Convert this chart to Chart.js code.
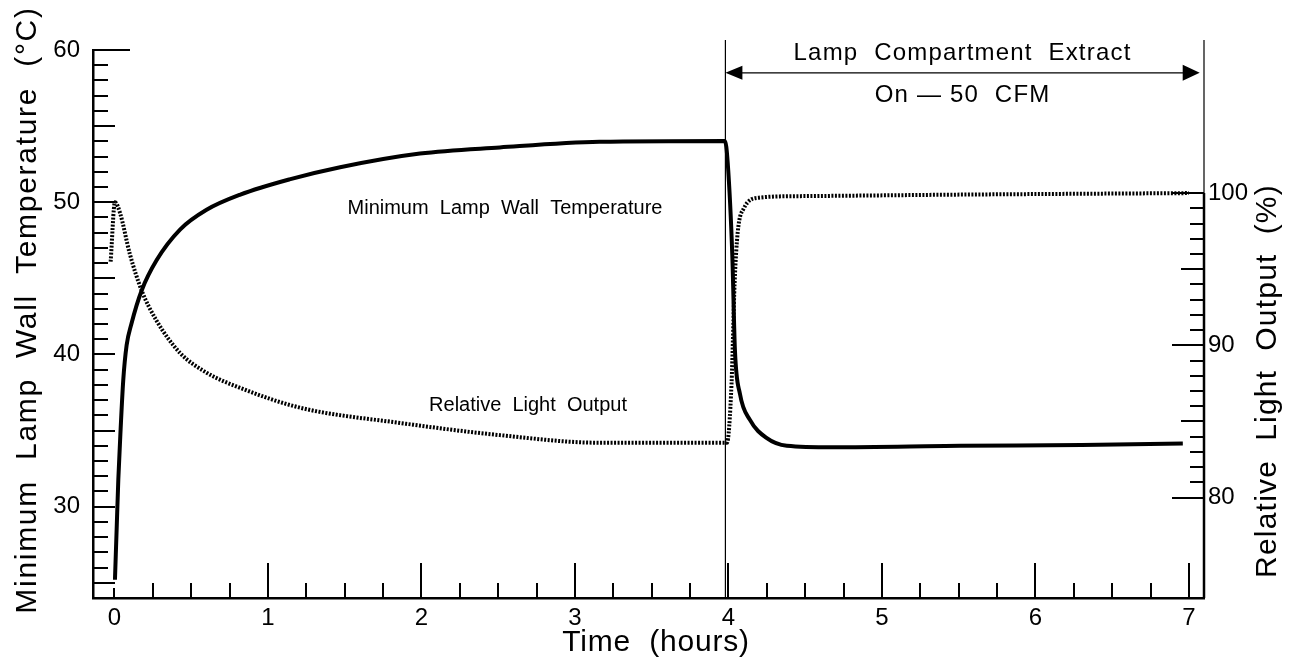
<!DOCTYPE html>
<html>
<head>
<meta charset="utf-8">
<title>Lamp wall temperature and light output</title>
<script src="https://cdn.jsdelivr.net/npm/chart.js@4.4.1/dist/chart.umd.min.js"></script>
<style>
  html, body { margin: 0; padding: 0; background: #fff; }
  #lampChart { display: block; }
</style>
</head>
<body>
<canvas id="lampChart" width="1291" height="658"></canvas>
<script>
// Minimum lamp wall temperature (left axis, °C)
const tempTime   = [0.003, 0.014, 0.025, 0.040, 0.057, 0.079, 0.110, 0.177, 0.275, 0.427, 0.600, 0.820, 1.14, 1.47, 1.99, 2.51, 3.16, 3.977, 3.995, 4.025, 4.042, 4.075, 4.14, 4.25, 4.38, 4.68, 5.51, 6.30, 6.96];
const tempValues = [25.2, 28.5, 31.8, 35.1, 38.3, 40.6, 42.0, 44.2, 46.2, 48.2, 49.5, 50.5, 51.5, 52.3, 53.2, 53.6, 53.97, 54.03, 52.6, 46.5, 40.3, 37.4, 35.7, 34.5, 34.0, 33.9, 34.0, 34.05, 34.15];

// Relative light output (right axis, %)
const lightTime   = [-0.025, 0.003, 0.036, 0.10, 0.177, 0.275, 0.427, 0.60, 0.82, 1.21, 1.86, 2.51, 3.16, 3.99, 4.02, 4.04, 4.06, 4.10, 4.20, 4.47, 5.51, 7.00];
const lightValues = [95.5, 99.4, 98.7, 96.0, 93.6, 91.6, 89.5, 88.2, 87.2, 85.9, 84.9, 84.1, 83.6, 83.6, 87.5, 94.1, 97.4, 99.0, 99.7, 99.8, 99.9, 100.0];

// tick labels
const timeTicks  = [0, 1, 2, 3, 4, 5, 6, 7];
const tempTicks  = [30, 40, 50, 60];
const lightTicks = [80, 90, 100];

// extract fan period
const extractOn  = 3.98;
const extractOff = 7.07;

const FONT = '"Liberation Sans", Arial, Helvetica, sans-serif';

function drawText(ctx, str, x, y, size, spacing, angle) {
    ctx.save();
    ctx.translate(x, y);
    if (angle) ctx.rotate(angle);
    ctx.font = size + 'px ' + FONT;
    ctx.letterSpacing = spacing + 'px';
    ctx.fillStyle = '#000';
    ctx.textAlign = 'center';
    ctx.textBaseline = 'middle';
    ctx.fillText(str, 0, 0);
    ctx.restore();
}

function line(ctx, x1, y1, x2, y2) {
    ctx.moveTo(x1, y1);
    ctx.lineTo(x2, y2);
}

// ticks point into the plot, like the original
const inwardTicks = {
    id: 'inwardTicks',
    afterDatasetsDraw(chart) {
        const { ctx, chartArea: area, scales: { x, y, y2 } } = chart;
        ctx.save();
        ctx.strokeStyle = '#000';
        ctx.lineWidth = 2;
        ctx.beginPath();
        for (let v = 25; v <= 60; v++) {
            const py = Math.round(y.getPixelForValue(v));
            const len = v === 60 ? 37 : (v % 5 === 0 ? 22 : 15);
            line(ctx, area.left, py, area.left + len, py);
        }
        for (let v = 80; v <= 100; v++) {
            const py = Math.round(y2.getPixelForValue(v));
            const len = v % 10 === 0 ? 32 : (v % 5 === 0 ? 23 : 14);
            line(ctx, area.right, py, area.right - len, py);
        }
        for (let i = 0; i <= 28; i++) {
            const v = i / 4;
            const px = Math.round(x.getPixelForValue(v));
            const len = v === 0 ? 10 : (i % 4 === 0 ? 35 : 15);
            line(ctx, px, area.bottom, px, area.bottom - len);
        }
        ctx.stroke();

        // right axis: heavy below 100 %, thin above
        const p100 = y2.getPixelForValue(100);
        const topY = y.getPixelForValue(60.65);
        ctx.beginPath();
        ctx.lineWidth = 2.5;
        line(ctx, area.right, area.bottom, area.right, p100);
        ctx.stroke();
        ctx.beginPath();
        ctx.lineWidth = 1.2;
        line(ctx, area.right, p100, area.right, topY);
        // extract on marker
        const xOn = x.getPixelForValue(extractOn);
        line(ctx, xOn, topY, xOn, area.bottom);
        ctx.stroke();

        // double arrow for the extract period
        const xOff = Math.min(x.getPixelForValue(extractOff), area.right);
        const ay = y.getPixelForValue(58.5);
        ctx.beginPath();
        ctx.lineWidth = 1.2;
        line(ctx, xOn + 10, ay, xOff - 10, ay);
        ctx.stroke();
        ctx.fillStyle = '#000';
        ctx.beginPath();
        ctx.moveTo(xOn, ay);
        ctx.lineTo(xOn + 17, ay - 7);
        ctx.lineTo(xOn + 17, ay + 7);
        ctx.closePath();
        ctx.moveTo(xOff, ay);
        ctx.lineTo(xOff - 17, ay - 8);
        ctx.lineTo(xOff - 17, ay + 8);
        ctx.closePath();
        ctx.fill();
        ctx.restore();
    },
    afterDraw(chart) {
        const { ctx, scales: { x, y } } = chart;
        const midX = (x.getPixelForValue(extractOn) + x.getPixelForValue(extractOff)) / 2;
        drawText(ctx, 'Lamp  Compartment  Extract', midX, y.getPixelForValue(59.8), 24, 1.2);
        drawText(ctx, 'On \u2014 50  CFM', midX, y.getPixelForValue(57.0), 24, 1.2);

        drawText(ctx, 'Minimum  Lamp  Wall  Temperature', x.getPixelForValue(2.544), y.getPixelForValue(49.6), 20, 0);
        drawText(ctx, 'Relative  Light  Output', x.getPixelForValue(2.694), y.getPixelForValue(36.67), 20, 0);

        // axis titles
        drawText(ctx, 'Minimum  Lamp  Wall  Temperature  (\u00B0C)', 28, 310, 30, 1.7, -Math.PI / 2);
        drawText(ctx, 'Relative  Light  Output  (%)', 1268, 381, 30, 1.2, -Math.PI / 2);
        drawText(ctx, 'Time  (hours)', 656, 643, 30, 0.8);
    }
};

const tickFont = { family: FONT, size: 24 };

new Chart(document.getElementById('lampChart'), {
    type: 'line',
    data: {
        datasets: [{
            label: 'Minimum Lamp Wall Temperature',
            data: tempTime.map((t, i) => ({ x: t, y: tempValues[i] })),
            yAxisID: 'y',
            borderColor: '#000',
            borderWidth: 4,
            cubicInterpolationMode: 'monotone',
            pointRadius: 0,
            fill: false
        }, {
            label: 'Relative Light Output',
            data: lightTime.map((t, i) => ({ x: t, y: lightValues[i] })),
            yAxisID: 'y2',
            borderColor: '#000',
            borderWidth: 4,
            borderDash: [2, 1.5],
            cubicInterpolationMode: 'monotone',
            pointRadius: 0,
            fill: false
        }]
    },
    options: {
        responsive: false,
        animation: false,
        layout: { padding: { top: 50, left: 0, right: 0, bottom: 0 } },
        plugins: {
            legend: { display: false },
            tooltip: { enabled: false }
        },
        scales: {
            x: {
                type: 'linear',
                position: 'bottom',
                min: -0.14,
                max: 7.098,
                grid: { display: false, drawTicks: false },
                border: { color: '#000', width: 2.5 },
                ticks: { color: '#000', font: tickFont, padding: 6, maxRotation: 0 },
                afterBuildTicks: s => { s.ticks = timeTicks.map(v => ({ value: v })); },
                afterFit: s => { s.height = 60; }
            },
            y: {
                type: 'linear',
                position: 'left',
                min: 24,
                max: 60,
                grid: { display: false, drawTicks: false },
                border: { color: '#000', width: 2.5 },
                ticks: { color: '#000', font: tickFont, padding: 13 },
                afterBuildTicks: s => { s.ticks = tempTicks.map(v => ({ value: v })); },
                afterFit: s => { s.width = 93; }
            },
            y2: {
                type: 'linear',
                position: 'right',
                min: 73.4,
                max: 109.4,
                grid: { display: false, drawTicks: false },
                border: { display: false },
                ticks: { color: '#000', font: tickFont, padding: 4 },
                afterBuildTicks: s => { s.ticks = lightTicks.map(v => ({ value: v })); },
                afterFit: s => { s.width = 87; }
            }
        }
    },
    plugins: [inwardTicks]
});
</script>
</body>
</html>
